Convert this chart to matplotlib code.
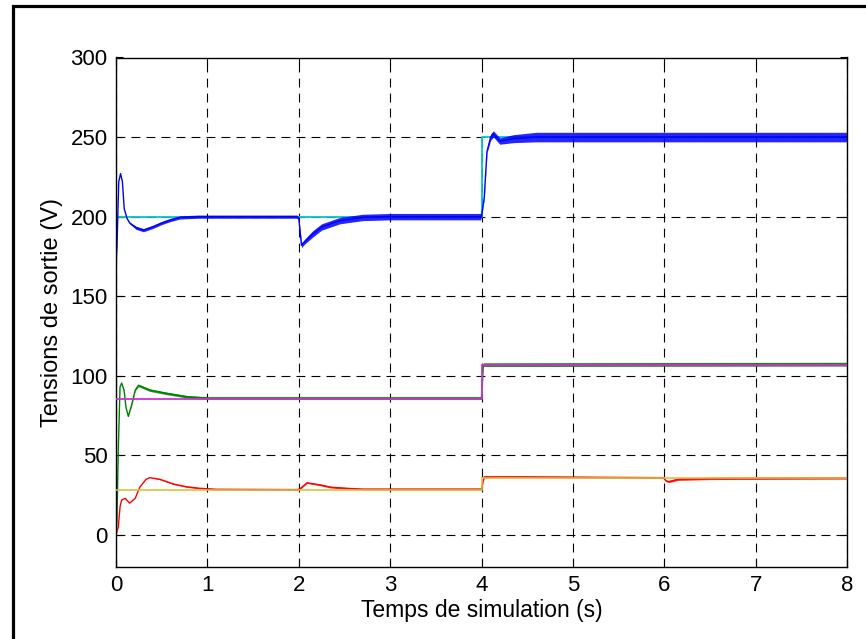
import matplotlib
matplotlib.use("Agg")
import matplotlib.pyplot as plt
from matplotlib.patches import Rectangle
import numpy as np

# ---- data ----
blue_t = [0.0, 0.003, 0.01, 0.03, 0.05, 0.07, 0.09, 0.12, 0.15, 0.22, 0.30, 0.40, 0.50, 0.60, 0.70, 0.90,
          1.5, 1.98, 2.0, 2.03, 2.06, 2.15, 2.25, 2.45, 2.7, 3.0, 3.99, 4.0, 4.03, 4.06, 4.1, 4.13, 4.2,
          4.35, 4.6, 8.0]
blue_v = [0, 172, 180, 222, 227, 222, 205, 199, 196, 193, 191.5, 193.5, 196, 198, 199.5, 200,
          200, 200, 199, 182, 184, 189, 193.5, 197.5, 199.5, 200, 200, 200, 212, 241, 250, 252, 247.5,
          249, 250, 250]
blue_band = [0, 0, 0, 0, 0, 0, 0, 0, 0.5, 1, 1, 1, 1, 1, 1, 1,
             1, 1, 1, 1.5, 1.5, 2, 2, 2, 2, 2, 2, 0, 1, 1, 2, 2, 2,
             2.5, 3, 3]

cyan_t = [0, 4, 4, 8]
cyan_v = [200, 200, 250, 250]

green_t = [0.0, 0.01, 0.025, 0.044, 0.062, 0.088, 0.11, 0.135, 0.17, 0.21, 0.245, 0.37, 0.55, 0.78,
           1.0, 3.99, 4.0, 4.02, 8.0]
green_v = [0, 9, 53, 93, 95.5, 91, 80, 74.5, 81.5, 91, 94, 91, 89, 86.8,
           86, 86, 86, 107, 107.3]
green_band = [0, 0, 0, 0, 0, 0, 0, 0, 0.5, 0.5, 0.8, 0.8, 0.8, 0.8,
              0.8, 0.8, 0, 1.2, 1.2]

magenta_t = [0, 4, 4, 8]
magenta_v = [85.5, 85.5, 107, 107]

red_t = [0.0, 0.025, 0.045, 0.062, 0.1, 0.15, 0.21, 0.26, 0.33, 0.37, 0.48, 0.63, 0.77, 0.92, 1.1,
         1.99, 2.02, 2.09, 2.24, 2.35, 2.53, 2.7, 3.99, 4.0, 4.03, 4.5, 5.99, 6.02, 6.05, 6.15, 6.5, 8.0]
red_v = [0, 5, 18, 22, 23, 20, 23, 30, 35, 36, 35, 32, 30.3, 29.3, 28.7,
         28.5, 29.3, 32.8, 31.4, 30, 29.3, 28.8, 28.8, 29, 36.5, 36.5, 36, 34, 33.5, 35, 35.5, 35.8]
red_band = [0, 0, 0, 0, 0, 0, 0, 0, 0, 0, 0.3, 0.3, 0.3, 0.4, 0.4,
            0.4, 0.4, 0.4, 0.5, 0.5, 0.5, 0.5, 0.5, 0, 0.5, 0.5, 0.5, 0.5, 0.6, 0.7, 0.7, 0.7]

yellow_t = [0, 4, 4, 8]
yellow_v = [28.3, 28.3, 36, 36]

xticks = [0, 1, 2, 3, 4, 5, 6, 7, 8]
yticks = [0, 50, 100, 150, 200, 250, 300]

plt.rcParams['font.family'] = ['Liberation Sans', 'DejaVu Sans']

fig = plt.figure(figsize=(8.66, 6.39), dpi=100)
ax = fig.add_axes([116/866, 1 - 566.8/639, (847 - 116)/866, (566.8 - 57.5)/639])

def draw(t, v, band, color, lw=1.0, z=2):
    t = np.asarray(t); v = np.asarray(v); b = np.asarray(band)
    ax.fill_between(t, v - b, v + b, color=color, lw=0, alpha=0.85, zorder=z)
    ax.plot(t, v, color=color, lw=lw, zorder=z)

ax.plot(cyan_t, cyan_v, color='#00c8c8', lw=1.3, zorder=2)
draw(blue_t, blue_v, blue_band, '#0000ff', z=2.5)
draw(green_t, green_v, green_band, '#008000')
ax.plot(magenta_t, magenta_v, color='#d030d0', lw=1.3, zorder=3)
draw(red_t, red_v, red_band, '#ff0000')
ax.plot(yellow_t, yellow_v, color='#d8c040', lw=1.5, alpha=0.8, zorder=3)

ax.set_xlim(0, 8)
ax.set_ylim(-20, 300)
ax.set_xticks(xticks)
ax.set_yticks(yticks)
ax.tick_params(direction='in', length=5, width=0.8, top=True, right=True, labelsize=16, pad=6)
ax.grid(True, color='black', linestyle=(0, (8, 5.5)), linewidth=0.8)
for s in ax.spines.values():
    s.set_linewidth(1.0)
ax.set_xlabel('Temps de simulation (s)', fontsize=16.5, labelpad=2)
ax.set_ylabel('Tensions de sortie (V)', fontsize=17, labelpad=5)

fig.patches.append(Rectangle((13/866, -0.2), 1.2, 0.2 + 1 - 6/639, transform=fig.transFigure,
                             fill=False, edgecolor='black', linewidth=2.3, zorder=10))

fig.savefig('out.png', dpi=100)
